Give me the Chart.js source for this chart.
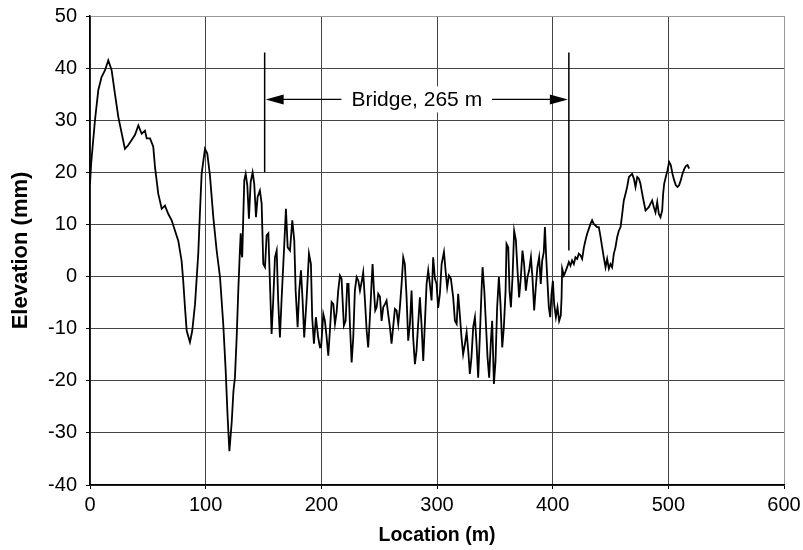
<!DOCTYPE html>
<html>
<head>
<meta charset="utf-8">
<script src="https://cdn.jsdelivr.net/npm/chart.js@4/dist/chart.umd.min.js"></script>
<style>
  html, body { margin: 0; padding: 0; background: #fff; }
  #wrap { width: 803px; height: 550px; }
</style>
</head>
<body>
<div id="wrap"><canvas id="grafico"></canvas></div>
<script>
// Perfil de elevação
const location_m = [
  0, 1, 4.3, 7.2, 10, 13, 15.8, 18.7, 21.6, 24.5, 27.4, 30.2, 33, 36, 38.9, 41.8, 44.7, 47.5, 49, 51.9,
  54.7, 56.2, 59, 62, 64.8, 67.7, 70.6, 73.5, 76.3, 79.2, 80.6, 82.1, 83.6, 86.4, 88.4, 90.8, 93.6, 95, 96.5, 99.4,
  101.4, 103.7, 106.6, 109.5, 112.4, 115.2, 117.3, 119, 120.5, 122.5, 124, 125.3, 126.8, 128.2, 129.6, 130.3, 131, 131.6, 132.5, 133.4,
  134.6, 136, 137.4, 138.9, 140.6, 142, 143.5, 144.9, 146.9, 148.4, 149.8, 151.3, 152.7, 154.2, 155.6, 157, 158.4, 159.9, 161.4, 162.7,
  164.2, 165.6, 167.7, 169.4, 170.9, 172.9, 174.9, 176.6, 177.8, 179.5, 180.9, 182.4, 183.8, 185.2, 187.2, 189.3, 191, 192.1, 193.6, 195.3,
  197.3, 198.8, 199.8, 201.7, 203.1, 204.6, 206, 207.4, 208.9, 210.4, 211.8, 213.2, 214.6, 216.1, 217.5, 218.4, 219.5, 221, 222.4, 223.5,
  224.7, 226.2, 227.6, 229, 230.5, 232, 233.4, 234.8, 236.2, 237.7, 239.2, 240.5, 242, 243.4, 244.3, 245.5, 246.6, 247.8, 249.2, 250.7,
  252.1, 253.5, 255, 256.4, 257.8, 259.3, 260.7, 262.1, 263.6, 265, 266.5, 267.9, 269.4, 270.8, 272.2, 273.7, 275.1, 276.6, 278, 279.4,
  280.9, 282.3, 283.7, 285.2, 286.6, 288.1, 289.5, 291, 292.4, 293.8, 295.3, 296.7, 298.2, 299.6, 301, 302.5, 304, 306, 307.4, 308.8,
  310.3, 312, 314, 315.5, 317, 318.3, 319.7, 321.2, 322.6, 324.1, 325.6, 327, 328.4, 329.8, 331.3, 332.8, 334.2, 335.6, 337, 338.5,
  339.4, 340.9, 342.3, 343.7, 345.1, 346.6, 347.7, 349.2, 350.6, 352, 353.5, 354.9, 356.4, 357.8, 359.3, 360.1, 361.6, 362.7, 363.9, 365.3,
  366.7, 368.2, 369.6, 371, 372.5, 373.9, 375.3, 376.8, 378.2, 379.7, 381.2, 382.5, 384, 385.4, 386.8, 388.3, 389.7, 390.9, 392.3, 393.3,
  394.4, 395.6, 396.7, 397.9, 399, 400.2, 401.3, 402.8, 404.2, 405.6, 407, 407.7, 408.2, 409.7, 411, 412.5, 414, 415.4, 416.8, 418.3,
  419.7, 421.2, 422.6, 424, 425.5, 427, 428.3, 429.8, 431.2, 432.7, 434.1, 435.5, 437, 438.4, 439.9, 441.4, 442.8, 444.2, 445.7, 447.1,
  448.6, 450, 451.4, 452.9, 454.3, 455.8, 457.2, 458.7, 460.1, 461.5, 463, 464.4, 465.9, 467.3, 468.7, 470.2, 471.6, 473.1, 474.5, 475.9,
  477.4, 478.8, 480.3, 481.7, 483.1, 484.6, 486, 487.5, 488.9, 490.4, 491.8, 493.2, 494.7, 495.5, 496.4, 497.8, 499.3, 500.7, 502.1, 503.6,
  505, 506.5, 507.9, 509.3, 510.8, 512.2, 513.7, 515.1, 516.6, 518
]
const elevation_mm = [
  17.8, 21.7, 30, 35.8, 38.3, 39.6, 41.5, 39.6, 35, 30.6, 27.5, 24.5, 25.2, 26.2, 27.2, 29, 27.4, 28, 26.5, 26.5,
  24.9, 21, 15.9, 13, 13.6, 12, 10.8, 8.8, 6.9, 3, -0.8, -5.9, -10.4, -12.6, -10.4, -5.3, 4.4, 12, 19.7, 24.5,
  23.6, 19.4, 11.4, 5, -0.1, -9.1, -18, -27, -33.5, -28, -22, -19.4, -11.7, -2.7, 5, 8.3, 4.5, 3.7, 11.4, 18.5,
  19.7, 17.5, 11.1, 18.1, 20, 17.8, 11.4, 15.3, 16.5, 14, 2.4, 1.8, 7.9, 8.3, -1.4, -11, -4.6, 3.7, 5, -4.6,
  -11.7, -4.6, 5, 13, 5.6, 5, 10.8, 6.9, -2.7, -9.7, -2.7, 1.2, -4.6, -11.7, -4.6, 4.4, 2.4, -7.8, -12.9, -7.8,
  -11.7, -13.6, -13.6, -7.2, -8.5, -11.7, -15.2, -10.4, -4.9, -5.3, -9.1, -6.9, -2.7, 0.2, -0.4, -4.6, -9.4, -8.5, -1.4, -1.4,
  -9.1, -16.5, -11.7, -2.7, -0.1, -0.8, -2.7, -1.1, 0.8, -4.6, -10.4, -13.6, -7.8, -1.4, 2.4, -2.7, -6.5, -5.9, -3.3, -3.9,
  -8.5, -5.9, -5.3, -4.6, -7.2, -9.7, -12.9, -9.7, -6.2, -6.5, -9.1, -5.9, -1.4, 3.7, 2.4, -4, -12.3, -9.1, -2.7, -11.7,
  -16.8, -14.2, -9.1, -4, -9.1, -16.2, -9.1, -1.4, 1.2, -1.4, -4.6, 3.7, -0.4, -1.4, -6, -3.3, 2.4, 4.7, 1.2, -2.1,
  0.2, -0.4, -4, -8.5, -9.1, -3.3, -7.2, -11.7, -14.9, -13, -10.7, -14.2, -18.7, -15.5, -9.7, -7.8, -13, -19.4, -11.7, -2.7,
  1.8, -2.7, -9.1, -15.5, -19.4, -12.3, -8.5, -20.6, -16.2, -5.9, -0.1, -5.3, -13.6, -9.7, -2.7, 6.3, 5.6, -2.7, -5.9, -0.1,
  8.8, 7, 1.2, -4, -0.1, 5, 2.4, -2.7, -0.1, 1.2, 3.7, -0.1, -6.5, -2.1, 1.8, 3.7, -1.4, 3, 4.7, 9.5,
  3.7, -1.4, -5.9, -7.8, -3.3, -0.8, -5.3, -7.8, -5.9, -8.5, -7.5, -4, 1.5, 0.2, 0.9, 1.8, 2.8, 2.1, 3.1, 2.4,
  3.7, 3.4, 4.4, 4.1, 3.4, 5.6, 6.9, 8.2, 9.1, 10.1, 10.8, 10.1, 9.8, 9.5, 9.5, 7.6, 5.6, 3.7, 1.8, 3.4,
  1.5, 2.4, 1.8, 4.4, 5.6, 7.6, 8.8, 9.5, 12, 14.6, 15.9, 17.2, 19.1, 19.4, 19.7, 18.8, 17.2, 19.1, 18.8, 17.8,
  15.9, 14.3, 12.7, 13, 13.3, 14, 14.6, 13.3, 12.3, 14.3, 12, 11.4, 12.7, 15.9, 17.8, 19.1, 20.4, 22, 21.4, 19.7,
  18.5, 17.5, 17.2, 17.5, 18.5, 19.7, 20.6, 21.2, 21.4, 20.7
]

// Ponte: início / fim (m) e alturas das linhas (mm)
const bridge_m = [151, 414]
const bridge_bottom_mm = [20, 5]
const bridge_top_mm = 43
const bridge_arrow_mm = 34
const bridge_label = 'Bridge, 265 m'

const x_ticks = [0, 600, 100]
const y_ticks = [-40, 50, 10]

Chart.defaults.font.family = '"Liberation Sans", Arial, sans-serif'
Chart.defaults.color = '#000'

const pontos = location_m.map((x, i) => ({ x, y: elevation_mm[i] }))

const pontePlugin = {
  id: 'ponte',
  afterDatasetsDraw(chart) {
    const c = chart.ctx
    const sx = chart.scales.x
    const sy = chart.scales.y
    const xa = sx.getPixelForValue(bridge_m[0])
    const xb = sx.getPixelForValue(bridge_m[1])
    const yt = sy.getPixelForValue(bridge_top_mm)
    const ya = sy.getPixelForValue(bridge_arrow_mm)
    c.save()
    c.strokeStyle = '#000'
    c.fillStyle = '#000'
    c.lineWidth = 1.5
    c.beginPath()
    c.moveTo(xa, yt); c.lineTo(xa, sy.getPixelForValue(bridge_bottom_mm[0]))
    c.moveTo(xb, yt); c.lineTo(xb, sy.getPixelForValue(bridge_bottom_mm[1]))
    c.stroke()

    c.font = '21px "Liberation Sans", Arial, sans-serif'
    c.textAlign = 'center'
    c.textBaseline = 'middle'
    const xm = (xa + xb) / 2
    const w = c.measureText(bridge_label).width
    c.fillStyle = '#fff'
    c.fillRect(xm - w / 2 - 6, ya - 13, w + 12, 26)
    c.fillStyle = '#000'
    c.fillText(bridge_label, xm, ya + 1)

    c.lineWidth = 1.4
    c.beginPath()
    c.moveTo(xa + 16, ya); c.lineTo(xm - w / 2 - 10, ya)
    c.moveTo(xm + w / 2 + 10, ya); c.lineTo(xb - 16, ya)
    c.stroke()
    c.beginPath()
    c.moveTo(xa + 1, ya); c.lineTo(xa + 19, ya - 5); c.lineTo(xa + 19, ya + 5); c.closePath()
    c.moveTo(xb - 1, ya); c.lineTo(xb - 19, ya - 5); c.lineTo(xb - 19, ya + 5); c.closePath()
    c.fill()
    c.restore()
  }
}

const tickFont = { size: 20, weight: 'normal' }
const gridColor = (ctx) => (ctx.index === ctx.chart.scales[ctx.scale.id].ticks.length - 1 ? '#999' : '#444')

new Chart(document.getElementById('grafico'), {
  type: 'line',
  data: {
    datasets: [{
      data: pontos,
      borderColor: '#000',
      borderWidth: 1.8,
      pointRadius: 0,
      tension: 0,
      fill: false
    }]
  },
  options: {
    responsive: true,
    maintainAspectRatio: false,
    animation: false,
    layout: { padding: { top: 16, right: 19, left: 0, bottom: 0 } },
    plugins: { legend: { display: false }, tooltip: { enabled: false } },
    scales: {
      x: {
        type: 'linear',
        min: x_ticks[0], max: x_ticks[1],
        ticks: { stepSize: x_ticks[2], font: tickFont, color: '#000', padding: 4, maxRotation: 0 },
        grid: { color: gridColor, lineWidth: 1, tickLength: 4, tickColor: '#000' },
        border: { color: '#000', width: 1.5 },
        title: { display: true, text: 'Location (m)', font: { size: 19.5, weight: 'bold' }, color: '#000', padding: { top: 2, bottom: 3 } },
        afterFit(scale) { scale.height = 65; scale.paddingLeft = 0; scale.paddingRight = 0 }
      },
      y: {
        min: y_ticks[0], max: y_ticks[1],
        ticks: { stepSize: y_ticks[2], font: tickFont, color: '#000', padding: 9 },
        grid: { color: gridColor, lineWidth: 1, tickLength: 4, tickColor: '#000' },
        border: { color: '#000', width: 1.5 },
        title: { display: true, text: 'Elevation (mm)', font: { size: 22, weight: 'bold' }, color: '#000', padding: { top: 8, bottom: 2 } },
        afterFit(scale) { scale.width = 90; scale.paddingTop = 0; scale.paddingBottom = 0 }
      }
    }
  },
  plugins: [pontePlugin]
})
</script>
</body>
</html>
